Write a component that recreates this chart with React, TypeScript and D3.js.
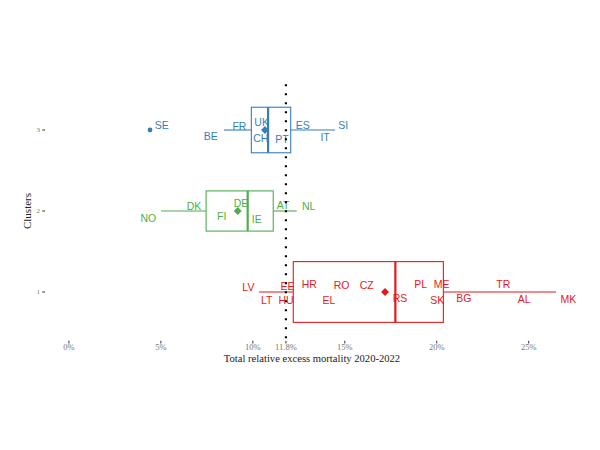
import React from "react";
import * as d3 from "d3";

// ---- data ----
const clusters = [1, 2, 3];
const clusterColors = ["#E41A1C", "#4DAF4A", "#377EB8"];
const clusterCounts = [16, 7, 9];
const boxQ1 = [12.2, 7.46, 9.92];
const boxMedian = [17.75, 9.72, 10.83];
const boxQ3 = [20.36, 11.11, 12.06];
const whiskerLow = [10.34, 5.01, 8.43];
const whiskerHigh = [26.49, 12.39, 14.47];
const clusterMeans = [17.19, 9.18, 10.66];
const outlierCluster = [3];
const outlierValue = [4.41];

const countryNames = [
  "SE", "BE", "FR", "UK", "CH", "PT", "ES", "IT", "SI",
  "NO", "DK", "FI", "DE", "IE", "AT", "NL",
  "LV", "LT", "EE", "HU", "HR", "EL", "RO", "CZ", "RS", "PL", "ME", "SK", "BG", "TR", "AL", "MK",
];
const countryCluster = [
  3, 3, 3, 3, 3, 3, 3, 3, 3,
  2, 2, 2, 2, 2, 2, 2,
  1, 1, 1, 1, 1, 1, 1, 1, 1, 1, 1, 1, 1, 1, 1, 1,
];
// jittered label positions (x in %, y in cluster units)
const labelX = [
  5.05, 7.71, 9.27, 10.48, 10.43, 11.59, 12.71, 13.93, 14.92,
  4.32, 6.8, 8.31, 9.36, 10.21, 11.64, 13.04,
  9.76, 10.76, 11.88, 11.81, 13.07, 14.14, 14.83, 16.19, 18.0, 19.13, 20.27, 20.03, 21.48, 23.62, 24.75, 27.16,
];
const labelY = [
  3.062, 2.917, 3.041, 3.09, 2.898, 2.889, 3.058, 2.905, 3.058,
  1.91, 2.062, 1.93, 2.095, 1.898, 2.074, 2.062,
  1.058, 0.893, 1.074, 0.893, 1.095, 0.893, 1.078, 1.086, 0.922, 1.095, 1.099, 0.893, 0.922, 1.099, 0.91, 0.91,
];
const threshold = 11.8;
const xTicks = [0, 5, 10, 11.8, 15, 20, 25];
const xTickLabels = ["0%", "5%", "10%", "11.8%", "15%", "20%", "25%"];
const xTitle = "Total relative excess mortality 2020-2022";
const yTitle = "Clusters";

export default function App() {
  const x = d3.scaleLinear().domain([-1.3, 27.3]).range([45, 571]);
  const y = d3.scaleLinear().domain([0.4, 3.6]).range([340.6, 81.4]);
  const maxN = d3.max(clusterCounts) as number;
  const unit = y(0) - y(1);
  const serif = "'Liberation Serif', 'Times New Roman', serif";
  const sans = "'Liberation Sans', Arial, sans-serif";
  const diamond = d3.symbol().type(d3.symbolDiamond2).size(40);

  return (
    <svg
      width={600}
      height={450}
      style={{ position: "absolute", left: 0, top: 0, background: "#fff" }}
    >
      {clusters.map((c, i) => {
        const h = 0.75 * Math.sqrt(clusterCounts[i] / maxN) * unit;
        const cy = y(c);
        const col = clusterColors[i];
        return (
          <g key={c}>
            <line x1={x(whiskerLow[i])} x2={x(boxQ1[i])} y1={cy} y2={cy} stroke={col} strokeWidth={1.1} />
            <line x1={x(boxQ3[i])} x2={x(whiskerHigh[i])} y1={cy} y2={cy} stroke={col} strokeWidth={1.1} />
            <rect
              x={x(boxQ1[i])}
              y={cy - h / 2}
              width={x(boxQ3[i]) - x(boxQ1[i])}
              height={h}
              fill="#fff"
              stroke={col}
              strokeWidth={1.1}
            />
            <line x1={x(boxMedian[i])} x2={x(boxMedian[i])} y1={cy - h / 2} y2={cy + h / 2} stroke={col} strokeWidth={2.2} />
          </g>
        );
      })}
      {outlierValue.map((v, i) => (
        <circle key={i} cx={x(v)} cy={y(outlierCluster[i])} r={2.4} fill={clusterColors[outlierCluster[i] - 1]} />
      ))}
      {countryNames.map((n, i) => (
        <text
          key={n}
          x={x(labelX[i])}
          y={y(labelY[i])}
          dy="0.35em"
          textAnchor="middle"
          fontFamily={sans}
          fontSize={10.5}
          fill={clusterColors[countryCluster[i] - 1]}
        >
          {n}
        </text>
      ))}
      {clusters.map((c, i) => (
        <path
          key={c}
          d={diamond() as string}
          transform={`translate(${x(clusterMeans[i])},${y(c)})`}
          fill={clusterColors[i]}
        />
      ))}
      <line
        x1={x(threshold)}
        x2={x(threshold)}
        y1={y(3.6) + 2.9}
        y2={y(0.4)}
        stroke="#000"
        strokeWidth={2.2}
        strokeDasharray="2 7"
      />
      {xTicks.map((t, i) => (
        <g key={t}>
          <line x1={x(t)} x2={x(t)} y1={340.8} y2={343.5} stroke="#333" strokeWidth={1} />
          <text x={x(t)} y={350} textAnchor="middle" fontFamily={serif} fontSize={8.5} fill="#777">
            {xTickLabels[i]}
          </text>
        </g>
      ))}
      {clusters.map((c) => (
        <g key={c}>
          <line x1={42.3} x2={45} y1={y(c)} y2={y(c)} stroke="#333" strokeWidth={1} />
          <text x={40} y={y(c)} dy="0.32em" textAnchor="end" fontFamily={serif} fontSize={7} fill="#777">
            {c}
          </text>
        </g>
      ))}
      <text x={312} y={362} textAnchor="middle" fontFamily={serif} fontSize={10.6} fill="#222">
        {xTitle}
      </text>
      <text
        transform={`translate(31,${y(2)}) rotate(-90)`}
        textAnchor="middle"
        fontFamily={serif}
        fontSize={11}
        fill="#222"
      >
        {yTitle}
      </text>
    </svg>
  );
}
